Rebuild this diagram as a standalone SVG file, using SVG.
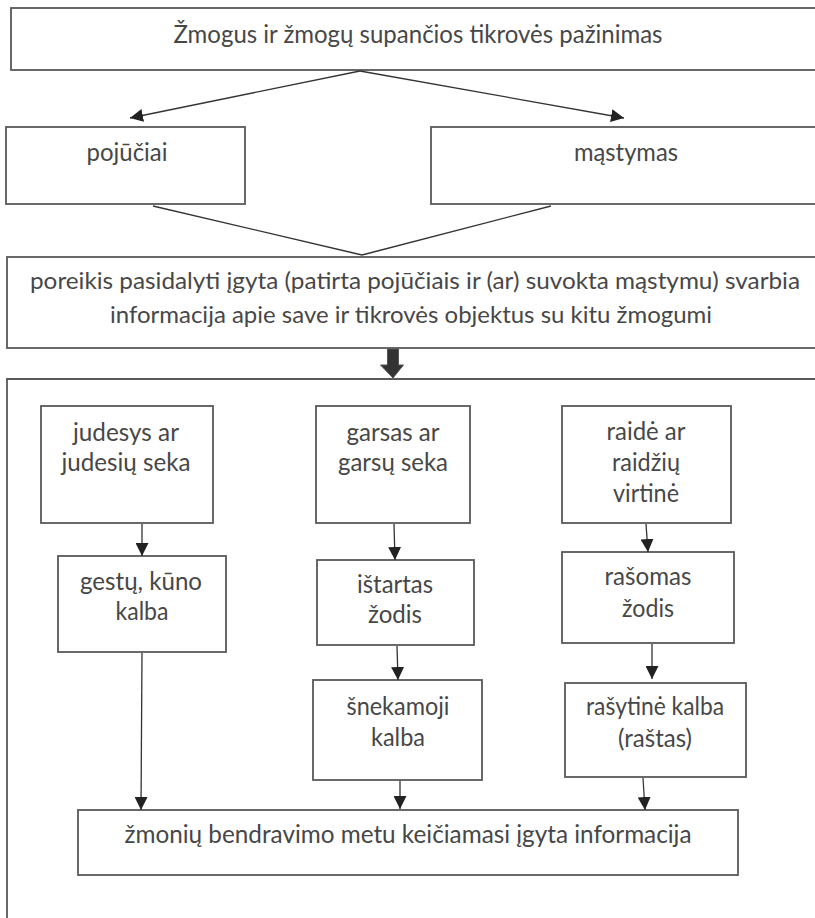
<svg xmlns="http://www.w3.org/2000/svg" width="815" height="918" viewBox="0 0 815 918">
<style>
.box{fill:#fff;stroke:#595959;stroke-width:1.8}
.t{font-family:Lato,"Open Sans","Liberation Sans",sans-serif;font-size:25px;fill:#474747;text-anchor:middle}
.s{font-size:23.5px}
.c{stroke:#333;stroke-width:1.3;fill:none}
</style>
<defs>
<marker id="ah" markerUnits="userSpaceOnUse" markerWidth="13" markerHeight="13" refX="12" refY="6" orient="auto" viewBox="0 0 12 12">
<path d="M0,0 L12,6 L0,12 z" fill="#222"/>
</marker>
</defs>
<rect width="815" height="918" fill="#fff"/>

<g id="outer">
<path d="M7,918 L7,379 L820,379" class="box" fill="none"/>
</g>

<g id="n-top">
<rect class="box" x="11" y="8" width="820" height="62"/>
<text class="t" x="418" y="43" textLength="489" lengthAdjust="spacingAndGlyphs">Žmogus ir žmogų supančios tikrovės pažinimas</text>
</g>

<g id="n-pojuciai">
<rect class="box" x="6" y="127" width="239" height="77"/>
<text class="t" x="127" y="161" textLength="81" lengthAdjust="spacingAndGlyphs">pojūčiai</text>
</g>

<g id="n-mastymas">
<rect class="box" x="431" y="127" width="400" height="77"/>
<text class="t" x="626" y="161" textLength="104" lengthAdjust="spacingAndGlyphs">mąstymas</text>
</g>

<g id="n-poreikis">
<rect class="box" x="7" y="257" width="820" height="91"/>
<text class="t s" x="415" y="289" textLength="770" lengthAdjust="spacingAndGlyphs">poreikis pasidalyti įgyta (patirta pojūčiais ir (ar) suvokta mąstymu) svarbia</text>
<text class="t s" x="411" y="323" textLength="602" lengthAdjust="spacingAndGlyphs">informacija apie save ir tikrovės objektus su kitu žmogumi</text>
</g>

<g id="n-judesys">
<rect class="box" x="41" y="406" width="172" height="117"/>
<text class="t" x="126" y="441" textLength="106" lengthAdjust="spacingAndGlyphs">judesys ar</text>
<text class="t" x="126" y="471" textLength="129" lengthAdjust="spacingAndGlyphs">judesių seka</text>
</g>

<g id="n-gestu">
<rect class="box" x="58" y="556" width="168" height="96"/>
<text class="t" x="141" y="590" textLength="122" lengthAdjust="spacingAndGlyphs">gestų, kūno</text>
<text class="t" x="142" y="620" textLength="53" lengthAdjust="spacingAndGlyphs">kalba</text>
</g>

<g id="n-garsas">
<rect class="box" x="316" y="406" width="154" height="117"/>
<text class="t" x="393" y="441" textLength="93" lengthAdjust="spacingAndGlyphs">garsas ar</text>
<text class="t" x="393" y="471" textLength="110" lengthAdjust="spacingAndGlyphs">garsų seka</text>
</g>

<g id="n-istartas">
<rect class="box" x="317" y="560" width="157" height="85"/>
<text class="t" x="395" y="593" textLength="76" lengthAdjust="spacingAndGlyphs">ištartas</text>
<text class="t" x="395" y="623" textLength="54" lengthAdjust="spacingAndGlyphs">žodis</text>
</g>

<g id="n-snekamoji">
<rect class="box" x="313" y="680" width="169" height="100"/>
<text class="t" x="398" y="715" textLength="103" lengthAdjust="spacingAndGlyphs">šnekamoji</text>
<text class="t" x="398" y="746" textLength="54" lengthAdjust="spacingAndGlyphs">kalba</text>
</g>

<g id="n-raide">
<rect class="box" x="562" y="406" width="169" height="117"/>
<text class="t" x="646" y="440" textLength="79" lengthAdjust="spacingAndGlyphs">raidė ar</text>
<text class="t" x="646" y="471" textLength="68" lengthAdjust="spacingAndGlyphs">raidžių</text>
<text class="t" x="646" y="502" textLength="66" lengthAdjust="spacingAndGlyphs">virtinė</text>
</g>

<g id="n-rasomas">
<rect class="box" x="562" y="552" width="172" height="91"/>
<text class="t" x="648" y="585" textLength="87" lengthAdjust="spacingAndGlyphs">rašomas</text>
<text class="t" x="648" y="617" textLength="52" lengthAdjust="spacingAndGlyphs">žodis</text>
</g>

<g id="n-rasytine">
<rect class="box" x="565" y="683" width="181" height="94"/>
<text class="t" x="655" y="715" textLength="138" lengthAdjust="spacingAndGlyphs">rašytinė kalba</text>
<text class="t" x="655" y="747" textLength="74" lengthAdjust="spacingAndGlyphs">(raštas)</text>
</g>

<g id="n-bendravimas">
<rect class="box" x="78" y="810" width="660" height="65"/>
<text class="t" x="408" y="843" textLength="567" lengthAdjust="spacingAndGlyphs">žmonių bendravimo metu keičiamasi įgyta informacija</text>
</g>

<g id="connectors">
<line class="c" x1="360" y1="71" x2="130" y2="118" marker-end="url(#ah)"/>
<line class="c" x1="360" y1="71" x2="624" y2="118" marker-end="url(#ah)"/>
<line class="c" x1="153" y1="206" x2="362" y2="255"/>
<line class="c" x1="551" y1="206" x2="362" y2="255"/>
<path d="M387.5,349 L398.5,349 L398.5,365 L403.5,365 L393,378 L380.5,365 L387.5,365 z" fill="#333" stroke="#555" stroke-width="1"/>
<line class="c" x1="142" y1="524" x2="142" y2="556" marker-end="url(#ah)"/>
<line class="c" x1="394" y1="524" x2="395" y2="560" marker-end="url(#ah)"/>
<line class="c" x1="397" y1="646" x2="398" y2="680" marker-end="url(#ah)"/>
<line class="c" x1="646" y1="524" x2="648" y2="552" marker-end="url(#ah)"/>
<line class="c" x1="652" y1="644" x2="652" y2="679" marker-end="url(#ah)"/>
<line class="c" x1="142" y1="653" x2="141" y2="810" marker-end="url(#ah)"/>
<line class="c" x1="400" y1="781" x2="400" y2="809" marker-end="url(#ah)"/>
<line class="c" x1="643" y1="778" x2="645" y2="810" marker-end="url(#ah)"/>
</g>
</svg>
